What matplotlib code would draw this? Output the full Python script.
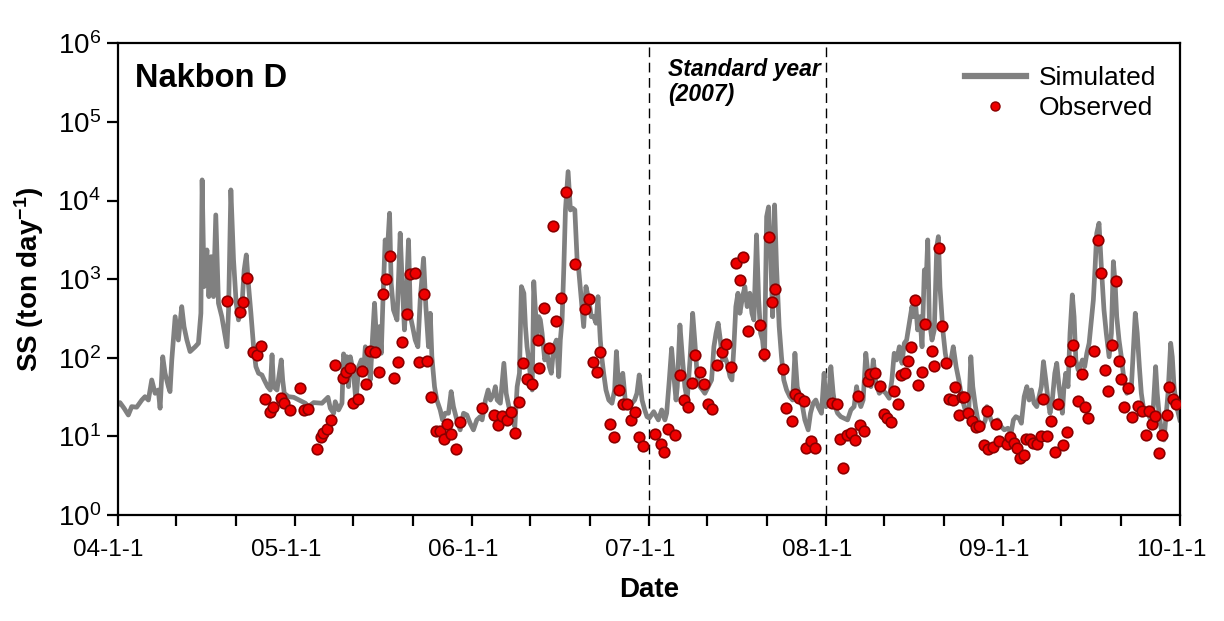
import numpy as np
import pandas as pd
import matplotlib
matplotlib.use("Agg")
import matplotlib.pyplot as plt
import matplotlib.transforms as mtransforms
from matplotlib.lines import Line2D
from matplotlib.ticker import FixedLocator, FixedFormatter, NullLocator
import matplotlib.dates as mdates

plt.rcParams['font.family'] = ['Liberation Sans', 'DejaVu Sans']
plt.rcParams['mathtext.fontset'] = 'custom'
plt.rcParams['mathtext.rm'] = 'Liberation Sans'
plt.rcParams['mathtext.it'] = 'Liberation Sans:italic'
plt.rcParams['mathtext.bf'] = 'Liberation Sans:bold'

# ---------------- data (decimal year, ton/day) ----------------
sim_year = [
    2004.000, 2004.014, 2004.037, 2004.061, 2004.080, 2004.108, 2004.137, 2004.155, 2004.174, 2004.193,
    2004.212, 2004.230, 2004.240, 2004.255, 2004.268, 2004.287, 2004.296, 2004.306, 2004.325, 2004.343,
    2004.362, 2004.375, 2004.391, 2004.409, 2004.438, 2004.456, 2004.470, 2004.477, 2004.488, 2004.504,
    2004.515, 2004.528, 2004.541, 2004.554, 2004.569, 2004.588, 2004.617, 2004.626, 2004.639, 2004.654,
    2004.669, 2004.682, 2004.701, 2004.714, 2004.726, 2004.739, 2004.752, 2004.767, 2004.780, 2004.795,
    2004.814, 2004.827, 2004.846, 2004.861, 2004.871, 2004.880, 2004.899, 2004.923, 2004.931, 2004.940,
    2004.964, 2004.993, 2005.059, 2005.077, 2005.106, 2005.153, 2005.187, 2005.200, 2005.219, 2005.228,
    2005.247, 2005.266, 2005.275, 2005.285, 2005.294, 2005.303, 2005.313, 2005.331, 2005.345, 2005.360,
    2005.375, 2005.388, 2005.398, 2005.413, 2005.426, 2005.439, 2005.450, 2005.464, 2005.478, 2005.488,
    2005.497, 2005.510, 2005.522, 2005.535, 2005.544, 2005.557, 2005.577, 2005.595, 2005.605, 2005.619,
    2005.629, 2005.642, 2005.653, 2005.665, 2005.680, 2005.695, 2005.708, 2005.727, 2005.740, 2005.755,
    2005.765, 2005.774, 2005.789, 2005.802, 2005.821, 2005.834, 2005.849, 2005.868, 2005.883, 2005.896,
    2005.915, 2005.934, 2005.953, 2005.972, 2005.990, 2006.009, 2006.028, 2006.047, 2006.058, 2006.077,
    2006.092, 2006.105, 2006.124, 2006.133, 2006.143, 2006.161, 2006.181, 2006.194, 2006.209, 2006.228,
    2006.243, 2006.256, 2006.269, 2006.280, 2006.294, 2006.303, 2006.312, 2006.322, 2006.331, 2006.341,
    2006.350, 2006.359, 2006.369, 2006.378, 2006.387, 2006.397, 2006.412, 2006.425, 2006.438, 2006.449,
    2006.463, 2006.478, 2006.491, 2006.500, 2006.510, 2006.520, 2006.529, 2006.544, 2006.557, 2006.570,
    2006.582, 2006.595, 2006.604, 2006.619, 2006.632, 2006.645, 2006.661, 2006.675, 2006.689, 2006.702,
    2006.713, 2006.726, 2006.736, 2006.745, 2006.758, 2006.774, 2006.792, 2006.807, 2006.817, 2006.826,
    2006.839, 2006.853, 2006.867, 2006.887, 2006.905, 2006.920, 2006.933, 2006.946, 2006.962, 2006.977,
    2006.990, 2007.003, 2007.028, 2007.054, 2007.073, 2007.091, 2007.101, 2007.116, 2007.129, 2007.142,
    2007.154, 2007.161, 2007.176, 2007.191, 2007.204, 2007.217, 2007.233, 2007.248, 2007.261, 2007.274,
    2007.289, 2007.304, 2007.317, 2007.336, 2007.355, 2007.368, 2007.380, 2007.392, 2007.402, 2007.417,
    2007.430, 2007.443, 2007.459, 2007.470, 2007.481, 2007.492, 2007.504, 2007.515, 2007.530, 2007.543,
    2007.556, 2007.571, 2007.583, 2007.594, 2007.609, 2007.621, 2007.632, 2007.643, 2007.654, 2007.666,
    2007.677, 2007.688, 2007.700, 2007.711, 2007.722, 2007.737, 2007.750, 2007.763, 2007.779, 2007.797,
    2007.813, 2007.826, 2007.839, 2007.854, 2007.869, 2007.882, 2007.901, 2007.914, 2007.929, 2007.944,
    2007.957, 2007.976, 2007.991, 2008.001, 2008.016, 2008.029, 2008.042, 2008.053, 2008.067, 2008.085,
    2008.104, 2008.123, 2008.142, 2008.160, 2008.174, 2008.185, 2008.198, 2008.211, 2008.226, 2008.242,
    2008.255, 2008.268, 2008.283, 2008.302, 2008.321, 2008.339, 2008.358, 2008.373, 2008.386, 2008.400,
    2008.415, 2008.430, 2008.443, 2008.456, 2008.471, 2008.486, 2008.494, 2008.505, 2008.518, 2008.531,
    2008.543, 2008.556, 2008.565, 2008.575, 2008.584, 2008.599, 2008.612, 2008.626, 2008.635, 2008.644,
    2008.660, 2008.674, 2008.688, 2008.706, 2008.719, 2008.735, 2008.750, 2008.763, 2008.776, 2008.791,
    2008.806, 2008.818, 2008.829, 2008.844, 2008.857, 2008.870, 2008.885, 2008.900, 2008.908, 2008.919,
    2008.932, 2008.951, 2008.970, 2008.989, 2009.007, 2009.027, 2009.045, 2009.058, 2009.072, 2009.090,
    2009.103, 2009.119, 2009.134, 2009.147, 2009.160, 2009.175, 2009.190, 2009.203, 2009.216, 2009.228,
    2009.241, 2009.254, 2009.265, 2009.278, 2009.292, 2009.303, 2009.316, 2009.326, 2009.335, 2009.344,
    2009.354, 2009.367, 2009.378, 2009.391, 2009.401, 2009.411, 2009.424, 2009.435, 2009.448, 2009.461,
    2009.473, 2009.486, 2009.499, 2009.510, 2009.520, 2009.529, 2009.542, 2009.555, 2009.570, 2009.583,
    2009.599, 2009.612, 2009.623, 2009.633, 2009.642, 2009.655, 2009.668, 2009.683, 2009.699, 2009.711,
    2009.724, 2009.736, 2009.747, 2009.758, 2009.770, 2009.781, 2009.792, 2009.806, 2009.819, 2009.834,
    2009.849, 2009.862, 2009.871, 2009.881, 2009.894, 2009.909, 2009.919, 2009.932, 2009.947, 2009.956,
    2009.966, 2009.981, 2009.999,
]
sim_value = [
    25, 26.9, 22.8, 18.7, 23.9, 23.5, 29.0, 32.0, 29.0, 52.2,
    35.3, 38.9, 22.8, 103, 63.5, 42.9, 37.1, 93.8, 333, 168,
    447, 249, 168, 120, 138, 153, 368, 18300, 803, 2353,
    599, 1933, 599, 6560, 494, 333, 138, 406, 13650, 1755,
    494, 303, 447, 1310, 2032, 803, 368, 138, 77.1, 63.5,
    60.4, 52.2, 42.9, 38.9, 109, 42.9, 38.9, 93.8, 52.2, 35.3,
    32.0, 31.4, 26.4, 23.9, 26.9, 26.4, 31.4, 22.8, 19.7, 27.6,
    21.7, 26.4, 112, 93.8, 103, 42.9, 103, 63.5, 27.6, 77.1,
    93.8, 63.5, 138, 103, 52.2, 186, 494, 126, 249, 114,
    494, 3155, 2137, 6895, 887, 406, 303, 3837, 1076, 226,
    544, 3155, 333, 249, 168, 138, 544, 1845, 447, 138,
    368, 103, 42.9, 29.0, 21.7, 16.2, 19.7, 19.7, 37.1, 23.9,
    16.2, 12.1, 19.7, 18.7, 14.7, 12.1, 16.2, 17.8, 16.2, 29.0,
    38.9, 29.0, 35.3, 42.9, 29.0, 26.4, 85.1, 35.3, 23.9, 19.7,
    13.3, 42.9, 63.5, 803, 662, 249, 138, 93.8, 57.5, 38.9,
    929, 406, 205, 333, 303, 205, 93.8, 114, 77.1, 63.5,
    138, 168, 57.5, 168, 303, 1443, 7590, 23330, 7590, 7980,
    7590, 1755, 1310, 544, 249, 803, 544, 333, 333, 275,
    599, 168, 93.8, 63.5, 38.9, 29.0, 26.4, 38.9, 120, 57.5,
    42.9, 63.5, 29.0, 23.9, 26.4, 29.0, 35.3, 60.4, 29.0, 21.7,
    17.8, 17.1, 20.6, 16.2, 21.7, 16.2, 19.7, 52.2, 132, 57.5,
    29.0, 42.9, 261, 93.8, 42.9, 29.0, 93.8, 368, 153, 57.5,
    42.9, 38.9, 35.3, 42.9, 52.2, 138, 205, 275, 186, 93.8,
    103, 85.1, 57.5, 52.2, 138, 447, 662, 368, 599, 803,
    447, 662, 368, 303, 3650, 544, 205, 168, 93.8, 6240,
    8290, 2353, 333, 8790, 1443, 249, 103, 52.2, 38.9, 32.0,
    29.0, 114, 42.9, 32.0, 23.9, 16.2, 12.1, 19.7, 26.4, 29.0,
    23.9, 19.7, 63.5, 23.9, 29.0, 77.1, 35.3, 23.9, 19.7, 17.8,
    17.0, 16.2, 21.7, 23.9, 42.9, 29.0, 23.9, 29.0, 114, 52.2,
    42.9, 93.8, 47.4, 35.3, 38.9, 35.3, 30.5, 52.2, 114, 93.8,
    138, 85.1, 153, 168, 275, 447, 333, 544, 226, 333,
    138, 1310, 803, 3155, 303, 168, 226, 2593, 3475, 803,
    226, 114, 77.1, 93.8, 138, 77.1, 52.2, 35.3, 26.4, 19.7,
    19.7, 103, 42.9, 23.9, 16.2, 14.7, 13.3, 16.2, 23.9, 19.7,
    16.2, 13.3, 16.2, 13.3, 12.1, 12.7, 11.0, 16.2, 17.8, 17.0,
    14.7, 32.0, 42.9, 29.0, 38.9, 26.4, 23.9, 32.0, 42.9, 89.2,
    52.2, 29.0, 19.7, 29.0, 63.5, 85.1, 42.9, 29.0, 19.7, 42.9,
    63.5, 42.9, 205, 630, 333, 93.8, 70.0, 77.1, 93.8, 77.1,
    114, 153, 303, 544, 1443, 3837, 5140, 1443, 406, 205,
    103, 205, 1670, 887, 333, 168, 103, 52.2, 35.3, 42.9,
    38.9, 126, 368, 205, 77.1, 35.3, 23.9, 19.7, 19.7, 16.2,
    23.9, 77.1, 35.3, 19.7, 12.1, 9.0, 16.2, 35.3, 153, 103,
    42.9, 23.9, 16.2,
]

obs_year = [
    2004.617, 2004.692, 2004.710, 2004.730, 2004.763, 2004.786, 2004.810, 2004.829, 2004.857, 2004.874,
    2004.922, 2004.940, 2004.970, 2005.030, 2005.049, 2005.074, 2005.125, 2005.147, 2005.156, 2005.183,
    2005.206, 2005.224, 2005.272, 2005.289, 2005.313, 2005.331, 2005.354, 2005.379, 2005.401, 2005.426,
    2005.454, 2005.477, 2005.497, 2005.514, 2005.537, 2005.560, 2005.582, 2005.605, 2005.633, 2005.652,
    2005.680, 2005.699, 2005.729, 2005.748, 2005.769, 2005.797, 2005.821, 2005.842, 2005.861, 2005.881,
    2005.910, 2005.932, 2006.058, 2006.124, 2006.147, 2006.171, 2006.199, 2006.222, 2006.243, 2006.265,
    2006.288, 2006.312, 2006.341, 2006.374, 2006.382, 2006.407, 2006.435, 2006.457, 2006.476, 2006.503,
    2006.532, 2006.582, 2006.638, 2006.661, 2006.683, 2006.706, 2006.726, 2006.779, 2006.802, 2006.830,
    2006.853, 2006.877, 2006.898, 2006.920, 2006.943, 2006.967, 2007.037, 2007.067, 2007.086, 2007.108,
    2007.146, 2007.174, 2007.197, 2007.221, 2007.242, 2007.263, 2007.289, 2007.312, 2007.336, 2007.355,
    2007.383, 2007.412, 2007.434, 2007.462, 2007.491, 2007.513, 2007.530, 2007.559, 2007.626, 2007.654,
    2007.677, 2007.697, 2007.714, 2007.756, 2007.776, 2007.807, 2007.826, 2007.850, 2007.875, 2007.888,
    2007.918, 2007.942, 2008.034, 2008.061, 2008.080, 2008.095, 2008.118, 2008.140, 2008.164, 2008.180,
    2008.191, 2008.215, 2008.236, 2008.249, 2008.276, 2008.304, 2008.326, 2008.345, 2008.368, 2008.383,
    2008.405, 2008.424, 2008.448, 2008.464, 2008.481, 2008.501, 2008.520, 2008.541, 2008.558, 2008.599,
    2008.609, 2008.637, 2008.654, 2008.678, 2008.697, 2008.716, 2008.729, 2008.752, 2008.767, 2008.782,
    2008.802, 2008.823, 2008.848, 2008.866, 2008.891, 2008.910, 2008.917, 2008.942, 2008.960, 2008.977,
    2009.024, 2009.041, 2009.062, 2009.077, 2009.096, 2009.119, 2009.128, 2009.152, 2009.171, 2009.194,
    2009.213, 2009.228, 2009.250, 2009.271, 2009.292, 2009.311, 2009.340, 2009.360, 2009.378, 2009.395,
    2009.422, 2009.444, 2009.461, 2009.480, 2009.512, 2009.536, 2009.552, 2009.574, 2009.593, 2009.614,
    2009.636, 2009.653, 2009.666, 2009.682, 2009.704, 2009.727, 2009.764, 2009.783, 2009.806, 2009.823,
    2009.841, 2009.857, 2009.879, 2009.900, 2009.924, 2009.937, 2009.960, 2009.977,
]
obs_value = [
    532, 383, 517, 1027, 117, 109, 141, 29.6, 20.4, 23.5,
    30.5, 26.4, 21.7, 40.9, 21.7, 22.1, 6.85, 9.9, 11.1, 12.5,
    16.0, 80.3, 55.8, 65.9, 73.5, 26.8, 29.6, 68.5, 46.0, 123,
    119, 65.4, 654, 1014, 1991, 55.8, 88.5, 160, 364, 1175,
    1210, 88.5, 654, 91, 32.0, 11.8, 11.8, 9.35, 14.3, 10.8,
    6.85, 15.1, 22.8, 18.7, 14.0, 18.2, 16.0, 20.3, 11.1, 27.6,
    85.1, 54.2, 46.8, 168, 74.8, 434, 134, 4797, 294, 582,
    12980, 1560, 418, 555, 87.6, 66.6, 120, 14.4, 9.9, 39.3,
    25.6, 26.1, 16.0, 20.3, 9.7, 7.6, 10.7, 8.0, 6.4, 12.3,
    10.5, 61.0, 28.8, 23.9, 47.4, 108, 65.4, 46.8, 25.8, 22.5,
    80.3, 119, 148, 75.7, 1593, 985, 1933, 221, 264, 112,
    3474, 517, 757, 72.7, 23.2, 15.6, 34.6, 31.1, 28.5, 7.2,
    8.7, 7.2, 26.4, 25.6, 9.35, 3.93, 10.4, 10.9, 8.9, 33.0,
    14.0, 11.6, 50.7, 62.8, 64.6, 44.2, 19.3, 17.0, 15.4, 37.8,
    26.1, 61.0, 64.6, 91.9, 138, 549, 44.7, 66.6, 272, 122,
    79.3, 2518, 254, 85.9, 30.2, 29.0, 42.2, 18.5, 32.0, 32.0,
    20.0, 15.8, 13.2, 13.7, 7.8, 21.0, 6.85, 7.4, 14.5, 8.7,
    8.1, 9.7, 8.3, 7.2, 5.36, 5.8, 9.2, 9.2, 8.2, 8.0,
    10.2, 30.2, 10.2, 15.6, 6.4, 25.8, 7.8, 11.4, 91.9, 146,
    28.0, 61.7, 23.9, 17.3, 123, 3155, 1210, 69.9, 38.1, 144,
    957, 91.9, 53.7, 23.9, 41.7, 17.8, 24.6, 21.2, 10.5, 21.2,
    14.4, 18.3, 6.2, 10.4, 18.9, 42.9, 29.9, 26.1,
]

tick_years = [2004, 2005, 2006, 2007, 2008, 2009, 2010]
tick_labels = ['04-1-1', '05-1-1', '06-1-1', '07-1-1', '08-1-1', '09-1-1', '10-1-1']
y_ticks = [1e0, 1e1, 1e2, 1e3, 1e4, 1e5, 1e6]
y_tick_labels = [r'$10^{0}$', r'$10^{1}$', r'$10^{2}$', r'$10^{3}$', r'$10^{4}$', r'$10^{5}$', r'$10^{6}$']
standard_year = [2007, 2008]


def to_dates(years):
    out = []
    for y in years:
        yi = int(np.floor(y))
        start = pd.Timestamp(year=yi, month=1, day=1)
        ndays = (pd.Timestamp(year=yi + 1, month=1, day=1) - start).days
        out.append(start + pd.Timedelta(days=(y - yi) * ndays))
    return pd.DatetimeIndex(out)


sim_dates = to_dates(sim_year)
obs_dates = to_dates(obs_year)
tick_dates = to_dates(tick_years)

fig = plt.figure(figsize=(12.24, 6.21), dpi=100)
ax = fig.add_axes([0.0960, 0.1707, 0.8681, 0.7596])

ax.plot(sim_dates, sim_value, color='#808080', lw=3.4, solid_joinstyle='round', zorder=2)
ax.plot(obs_dates, obs_value, 'o', ms=7.6, mfc='#ee0000', mec='#8a0000', mew=1.2, zorder=3)

for sy in to_dates(standard_year):
    ax.axvline(sy, color='black', lw=1.0, ls=(0, (7, 4)), zorder=1)

ax.set_yscale('log')
ax.set_ylim(1, 1e6)
ax.set_xlim(tick_dates[0], tick_dates[-1])

ax.yaxis.set_major_locator(FixedLocator(y_ticks))
ax.yaxis.set_major_formatter(FixedFormatter(y_tick_labels))
ax.yaxis.set_minor_locator(NullLocator())

ax.xaxis.set_major_locator(FixedLocator(mdates.date2num(tick_dates)))
ax.xaxis.set_major_formatter(FixedFormatter(tick_labels))
ax.xaxis.set_minor_locator(mdates.MonthLocator(bymonth=[5, 9]))

ax.tick_params(axis='both', which='both', direction='out', length=8, width=1.6, color='black')
ax.tick_params(axis='x', which='major', pad=9, labelsize=17.5)
ax.tick_params(axis='y', which='major', pad=4, labelsize=20)
for sp in ax.spines.values():
    sp.set_linewidth(1.6)

shift = mtransforms.ScaledTranslation(-9 / 100, 0, fig.dpi_scale_trans)
for lab in ax.get_xticklabels():
    lab.set_transform(lab.get_transform() + shift)

ax.set_xlabel('Date', fontsize=20, fontweight='bold', labelpad=12)
ax.set_ylabel(r'SS (ton day$^{\mathbf{-1}}$)', fontsize=20, fontweight='bold', labelpad=8)

ax.text(0.0165, 0.907, 'Nakbon D', transform=ax.transAxes, fontsize=23.5, fontweight='bold',
        va='baseline', ha='left')
ax.text(0.518, 0.968, 'Standard year\n(2007)', transform=ax.transAxes, fontsize=16.5,
        fontweight='bold', fontstyle='italic', va='top', ha='left', linespacing=1.1)

handles = [Line2D([], [], color='#808080', lw=4.5),
           Line2D([], [], ls='none', marker='o', ms=6.5, mfc='#ee0000', mec='#8a0000', mew=1.0)]
ax.legend(handles, ['Simulated', 'Observed'], loc='upper right', frameon=False, fontsize=19,
          handlelength=2.3, handletextpad=0.5, labelspacing=0.22, borderaxespad=0.3,
          bbox_to_anchor=(0.995, 0.99))

fig.savefig('out.png', dpi=100)
